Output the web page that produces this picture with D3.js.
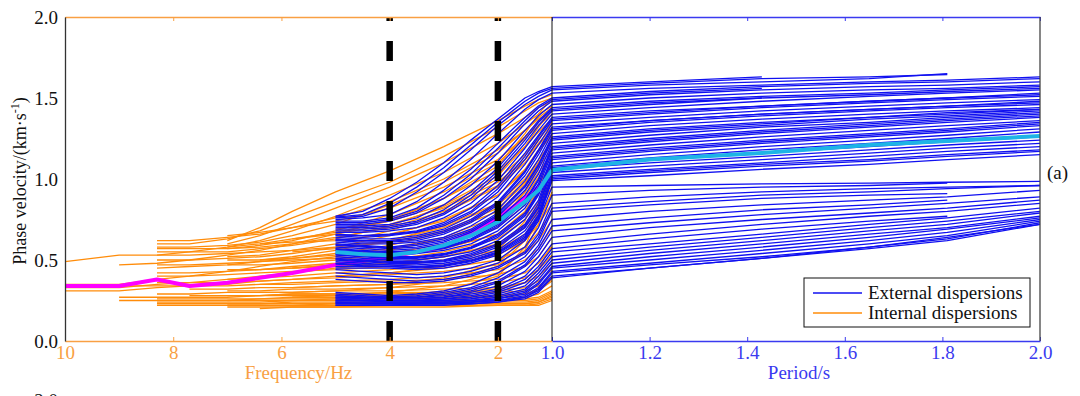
<!DOCTYPE html>
<html>
<head>
<meta charset="utf-8">
<script src="https://cdn.jsdelivr.net/npm/d3@7"></script>
<style>
  html, body { margin: 0; padding: 0; background: #fff; }
  svg { display: block; font-family: "Liberation Serif", "Times New Roman", serif; }
</style>
</head>
<body>
<div id="chart"></div>
<script>
// frequency grids (Hz) and period grid (s)
const freqInt = [10, 9, 8.3, 7.7, 7, 6.4, 5.8, 5, 4, 3, 2, 1.5, 1.25, 1];
const freqExt = [5, 4.5, 4, 3.5, 3, 2.5, 2, 1.5, 1.25, 1];
const periods = [1.0, 1.2, 1.43, 1.65, 1.81, 2.0];

const freqTicks = [10, 8, 6, 4, 2];
const periodTicks = [1.0, 1.2, 1.4, 1.6, 1.8, 2.0];
const velocityTicks = [0, 0.5, 1.0, 1.5, 2.0];
const markedFreqs = [4, 2];

// internal dispersions, phase velocity (km/s) on freqInt, null = not measured
const internalCurves = [
  [null, null, null, null, 0.62, 0.70, 0.80, 0.92, 1.05, 1.20, 1.36, 1.45, 1.49, 1.52],
  [null, null, 0.60, 0.60, 0.63, 0.68, 0.76, 0.86, 0.98, 1.14, 1.32, 1.42, 1.47, 1.50],
  [null, null, null, null, 0.60, 0.65, 0.72, 0.82, 0.95, 1.10, 1.28, 1.38, 1.44, 1.48],
  [0.49, 0.53, 0.53, 0.55, 0.58, 0.62, 0.68, 0.77, 0.90, 1.04, 1.22, 1.34, 1.40, 1.45],
  [null, null, 0.58, 0.58, 0.59, 0.61, 0.65, 0.72, 0.84, 0.98, 1.16, 1.30, 1.37, 1.42],
  [null, null, null, null, 0.57, 0.59, 0.62, 0.68, 0.78, 0.92, 1.10, 1.25, 1.33, 1.40],
  [null, 0.47, 0.48, 0.50, 0.53, 0.56, 0.60, 0.66, 0.75, 0.88, 1.05, 1.20, 1.29, 1.37],
  [null, null, 0.55, 0.55, 0.55, 0.57, 0.59, 0.63, 0.71, 0.83, 1.00, 1.15, 1.25, 1.34],
  [null, null, null, null, 0.52, 0.53, 0.56, 0.60, 0.68, 0.79, 0.95, 1.10, 1.21, 1.30],
  [null, null, 0.50, 0.50, 0.51, 0.52, 0.54, 0.58, 0.65, 0.75, 0.90, 1.05, 1.17, 1.27],
  [null, null, null, null, null, 0.50, 0.52, 0.56, 0.62, 0.71, 0.85, 1.00, 1.12, 1.23],
  [null, null, 0.45, 0.46, 0.47, 0.49, 0.51, 0.54, 0.59, 0.67, 0.80, 0.95, 1.07, 1.19],
  [0.35, 0.35, 0.38, 0.40, 0.43, 0.46, 0.49, 0.52, 0.56, 0.63, 0.74, 0.89, 1.01, 1.14],
  [null, null, null, null, 0.47, 0.47, 0.48, 0.50, 0.54, 0.60, 0.70, 0.84, 0.96, 1.10],
  [null, null, 0.42, 0.42, 0.43, 0.44, 0.46, 0.48, 0.52, 0.57, 0.66, 0.79, 0.91, 1.05],
  [null, null, null, null, null, null, 0.45, 0.47, 0.50, 0.55, 0.63, 0.75, 0.86, 1.00],
  [0.33, 0.33, 0.35, 0.36, 0.38, 0.40, 0.42, 0.45, 0.48, 0.52, 0.59, 0.70, 0.81, 0.95],
  [null, null, 0.40, 0.40, 0.41, 0.42, 0.43, 0.44, 0.46, 0.50, 0.56, 0.66, 0.77, 0.90],
  [null, null, null, null, 0.38, 0.39, 0.40, 0.42, 0.44, 0.47, 0.53, 0.62, 0.72, 0.85],
  [0.31, 0.31, 0.33, 0.34, 0.35, 0.37, 0.38, 0.40, 0.42, 0.45, 0.50, 0.58, 0.67, 0.80],
  [null, null, 0.36, 0.36, 0.36, 0.37, 0.38, 0.39, 0.41, 0.43, 0.47, 0.54, 0.62, 0.75],
  [null, null, null, null, null, 0.35, 0.36, 0.37, 0.38, 0.40, 0.44, 0.50, 0.57, 0.70],
  [null, 0.34, 0.34, 0.34, 0.34, 0.35, 0.35, 0.36, 0.37, 0.38, 0.41, 0.46, 0.52, 0.64],
  [null, null, null, 0.32, 0.32, 0.33, 0.33, 0.34, 0.35, 0.36, 0.38, 0.42, 0.48, 0.58],
  [null, null, null, null, 0.31, 0.31, 0.32, 0.32, 0.33, 0.34, 0.36, 0.39, 0.44, 0.53],
  [null, null, 0.29, 0.29, 0.30, 0.30, 0.30, 0.31, 0.31, 0.32, 0.33, 0.36, 0.40, 0.48],
  [null, null, null, null, 0.28, 0.28, 0.29, 0.29, 0.30, 0.30, 0.31, 0.33, 0.37, 0.44],
  [null, 0.27, 0.27, 0.27, 0.27, 0.28, 0.28, 0.28, 0.28, 0.29, 0.30, 0.31, 0.34, 0.40],
  [null, null, 0.26, 0.26, 0.26, 0.26, 0.27, 0.27, 0.27, 0.28, 0.28, 0.29, 0.31, 0.37],
  [null, null, null, null, 0.25, 0.25, 0.25, 0.26, 0.26, 0.26, 0.27, 0.27, 0.29, 0.34],
  [null, null, 0.24, 0.24, 0.24, 0.24, 0.25, 0.25, 0.25, 0.25, 0.25, 0.26, 0.27, 0.31],
  [null, null, null, null, 0.23, 0.23, 0.23, 0.23, 0.24, 0.24, 0.24, 0.24, 0.25, 0.29],
  [null, null, 0.22, 0.22, 0.22, 0.22, 0.22, 0.23, 0.23, 0.23, 0.23, 0.23, 0.24, 0.27],
  [null, null, null, null, 0.21, 0.21, 0.21, 0.21, 0.22, 0.22, 0.22, 0.22, 0.23, 0.26],
  [null, null, null, null, null, 0.20, 0.21, 0.21, 0.21, 0.21, 0.22, 0.22, 0.22, 0.25],
  [null, null, null, null, null, null, 0.63, 0.66, 0.72, 0.82, 0.98, 1.12, 1.22, 1.32],
  [null, null, null, null, null, null, null, 0.69, 0.74, 0.84, 1.02, 1.20, 1.32, 1.43],
  [null, null, null, null, null, null, 0.27, 0.28, 0.30, 0.34, 0.42, 0.56, 0.72, 0.92],
  [null, null, null, null, null, 0.30, 0.30, 0.31, 0.33, 0.37, 0.46, 0.62, 0.80, 1.02],
  [null, null, null, null, null, null, null, 0.25, 0.27, 0.31, 0.40, 0.58, 0.78, 1.10],
  [null, null, null, null, 0.58, 0.60, 0.63, 0.67, 0.74, 0.88, 1.08, 1.28, 1.40, 1.50],
  [null, null, null, null, null, 0.44, 0.45, 0.47, 0.51, 0.58, 0.72, 0.92, 1.08, 1.26],
  [null, null, 0.62, 0.62, 0.64, 0.66, 0.70, 0.76, 0.86, 1.00, 1.18, 1.30, 1.38, 1.44],
  [null, null, null, null, 0.65, 0.67, 0.70, 0.74, 0.82, 0.95, 1.12, 1.26, 1.35, 1.42],
  [null, null, 0.57, 0.57, 0.57, 0.58, 0.60, 0.64, 0.70, 0.80, 0.96, 1.12, 1.24, 1.35],
  [null, null, null, null, null, 0.60, 0.61, 0.62, 0.66, 0.74, 0.90, 1.06, 1.18, 1.28],
  [null, null, 0.53, 0.53, 0.54, 0.55, 0.56, 0.58, 0.62, 0.70, 0.84, 0.98, 1.10, 1.22],
  [null, null, null, null, 0.50, 0.50, 0.51, 0.53, 0.57, 0.64, 0.77, 0.92, 1.04, 1.16],
  [null, 0.25, 0.25, 0.25, 0.25, 0.26, 0.26, 0.26, 0.27, 0.27, 0.28, 0.29, 0.32, 0.38],
  [null, null, 0.23, 0.23, 0.23, 0.23, 0.24, 0.24, 0.24, 0.24, 0.25, 0.25, 0.26, 0.30],
  [null, null, null, null, 0.22, 0.22, 0.22, 0.22, 0.22, 0.23, 0.23, 0.23, 0.24, 0.28],
  [null, null, null, null, null, null, 0.55, 0.57, 0.61, 0.68, 0.82, 0.97, 1.10, 1.24],
  [null, null, null, null, null, null, 0.33, 0.34, 0.35, 0.39, 0.48, 0.64, 0.84, 1.12],
  [null, null, null, null, null, null, null, 0.40, 0.42, 0.46, 0.56, 0.74, 0.96, 1.20],
  [null, null, 0.47, 0.47, 0.48, 0.49, 0.50, 0.51, 0.53, 0.57, 0.66, 0.80, 0.94, 1.08],
  [null, null, null, null, 0.44, 0.44, 0.45, 0.46, 0.48, 0.52, 0.60, 0.72, 0.84, 0.98],
  [null, null, null, 0.28, 0.28, 0.28, 0.29, 0.29, 0.29, 0.30, 0.32, 0.36, 0.44, 0.60]
];

// external dispersions, frequency part on freqExt
const externalFreqCurves = [
  [0.77, 0.80, 0.88, 0.98, 1.10, 1.24, 1.37, 1.50, 1.54, 1.57],
  [0.76, 0.77, 0.82, 0.92, 1.04, 1.18, 1.33, 1.46, 1.51, 1.55],
  [0.75, 0.76, 0.78, 0.86, 0.98, 1.12, 1.28, 1.43, 1.49, 1.53],
  [0.74, 0.74, 0.76, 0.82, 0.93, 1.06, 1.22, 1.38, 1.45, 1.50],
  [0.72, 0.72, 0.74, 0.79, 0.88, 1.00, 1.16, 1.34, 1.42, 1.48],
  [0.71, 0.71, 0.72, 0.76, 0.84, 0.96, 1.11, 1.30, 1.39, 1.46],
  [0.70, 0.70, 0.71, 0.74, 0.81, 0.92, 1.07, 1.26, 1.36, 1.44],
  [0.68, 0.68, 0.69, 0.72, 0.78, 0.88, 1.03, 1.22, 1.33, 1.42],
  [0.67, 0.67, 0.68, 0.70, 0.76, 0.85, 0.99, 1.19, 1.30, 1.40],
  [0.66, 0.65, 0.66, 0.68, 0.73, 0.82, 0.96, 1.16, 1.27, 1.38],
  [0.65, 0.64, 0.65, 0.67, 0.71, 0.79, 0.92, 1.12, 1.24, 1.36],
  [0.64, 0.63, 0.63, 0.65, 0.69, 0.77, 0.89, 1.09, 1.21, 1.34],
  [0.63, 0.62, 0.62, 0.64, 0.68, 0.75, 0.86, 1.05, 1.18, 1.32],
  [0.62, 0.61, 0.61, 0.62, 0.66, 0.73, 0.84, 1.02, 1.15, 1.30],
  [0.61, 0.60, 0.60, 0.61, 0.64, 0.71, 0.81, 0.99, 1.12, 1.28],
  [0.60, 0.59, 0.58, 0.60, 0.63, 0.69, 0.79, 0.96, 1.09, 1.26],
  [0.59, 0.58, 0.57, 0.58, 0.61, 0.67, 0.77, 0.93, 1.06, 1.24],
  [0.58, 0.57, 0.56, 0.57, 0.60, 0.65, 0.75, 0.90, 1.03, 1.22],
  [0.57, 0.56, 0.55, 0.56, 0.58, 0.63, 0.72, 0.87, 1.00, 1.20],
  [0.56, 0.55, 0.54, 0.55, 0.57, 0.62, 0.70, 0.84, 0.97, 1.18],
  [0.55, 0.54, 0.53, 0.54, 0.56, 0.60, 0.68, 0.82, 0.95, 1.16],
  [0.54, 0.53, 0.52, 0.52, 0.54, 0.58, 0.66, 0.79, 0.92, 1.14],
  [0.53, 0.52, 0.51, 0.51, 0.53, 0.57, 0.64, 0.77, 0.90, 1.12],
  [0.52, 0.51, 0.50, 0.50, 0.52, 0.55, 0.62, 0.75, 0.87, 1.10],
  [0.51, 0.50, 0.49, 0.49, 0.50, 0.54, 0.60, 0.72, 0.85, 1.08],
  [0.50, 0.49, 0.48, 0.48, 0.49, 0.52, 0.58, 0.70, 0.82, 1.06],
  [0.49, 0.48, 0.47, 0.47, 0.48, 0.51, 0.56, 0.68, 0.80, 1.04],
  [0.48, 0.47, 0.47, 0.46, 0.47, 0.50, 0.55, 0.66, 0.78, 1.02],
  [0.46, 0.46, 0.46, 0.45, 0.46, 0.49, 0.54, 0.64, 0.76, 1.00],
  [0.45, 0.45, 0.45, 0.44, 0.45, 0.48, 0.53, 0.63, 0.75, 0.99],
  [0.44, 0.43, 0.42, 0.41, 0.42, 0.45, 0.50, 0.62, 0.74, 0.95],
  [0.42, 0.41, 0.40, 0.39, 0.40, 0.43, 0.48, 0.58, 0.70, 0.90],
  [0.40, 0.39, 0.38, 0.37, 0.38, 0.41, 0.46, 0.55, 0.66, 0.85],
  [0.30, 0.29, 0.28, 0.29, 0.31, 0.35, 0.42, 0.52, 0.62, 0.80],
  [0.29, 0.28, 0.27, 0.28, 0.30, 0.33, 0.39, 0.49, 0.59, 0.75],
  [0.28, 0.27, 0.27, 0.27, 0.28, 0.31, 0.36, 0.46, 0.55, 0.68],
  [0.27, 0.27, 0.26, 0.26, 0.27, 0.30, 0.34, 0.43, 0.52, 0.64],
  [0.27, 0.26, 0.26, 0.26, 0.27, 0.29, 0.32, 0.40, 0.49, 0.60],
  [0.26, 0.26, 0.25, 0.25, 0.26, 0.28, 0.31, 0.38, 0.46, 0.57],
  [0.26, 0.25, 0.25, 0.25, 0.26, 0.27, 0.30, 0.36, 0.44, 0.55],
  [0.25, 0.25, 0.25, 0.25, 0.25, 0.26, 0.29, 0.34, 0.42, 0.52],
  [0.25, 0.25, 0.24, 0.24, 0.25, 0.26, 0.28, 0.32, 0.40, 0.50],
  [0.24, 0.24, 0.24, 0.24, 0.24, 0.25, 0.27, 0.31, 0.38, 0.48],
  [0.24, 0.24, 0.24, 0.24, 0.24, 0.25, 0.26, 0.30, 0.36, 0.46],
  [0.24, 0.23, 0.23, 0.23, 0.24, 0.24, 0.26, 0.29, 0.35, 0.45],
  [0.23, 0.23, 0.23, 0.23, 0.23, 0.24, 0.25, 0.28, 0.33, 0.43],
  [0.23, 0.23, 0.23, 0.23, 0.23, 0.24, 0.25, 0.27, 0.32, 0.42],
  [0.22, 0.22, 0.22, 0.23, 0.23, 0.23, 0.24, 0.27, 0.31, 0.40],
  [0.22, 0.22, 0.22, 0.22, 0.22, 0.23, 0.24, 0.26, 0.30, 0.39],
  [0.765, 0.78, 0.85, 0.95, 1.07, 1.21, 1.35, 1.48, 1.53, 1.56],
  [0.73, 0.73, 0.75, 0.80, 0.90, 1.03, 1.19, 1.36, 1.44, 1.49],
  [0.69, 0.69, 0.70, 0.73, 0.79, 0.90, 1.05, 1.24, 1.35, 1.43],
  [0.655, 0.65, 0.655, 0.675, 0.72, 0.80, 0.94, 1.14, 1.26, 1.37],
  [0.625, 0.62, 0.615, 0.63, 0.67, 0.74, 0.85, 1.04, 1.17, 1.31],
  [0.595, 0.585, 0.575, 0.59, 0.62, 0.68, 0.78, 0.95, 1.08, 1.25],
  [0.565, 0.555, 0.545, 0.555, 0.575, 0.625, 0.71, 0.86, 0.99, 1.19],
  [0.535, 0.525, 0.515, 0.515, 0.535, 0.575, 0.65, 0.78, 0.91, 1.13],
  [0.505, 0.495, 0.485, 0.485, 0.495, 0.53, 0.59, 0.71, 0.83, 1.07],
  [0.475, 0.465, 0.46, 0.455, 0.465, 0.495, 0.545, 0.65, 0.77, 1.01],
  [0.38, 0.37, 0.36, 0.36, 0.37, 0.40, 0.45, 0.54, 0.64, 0.82],
  [0.28, 0.27, 0.27, 0.27, 0.29, 0.32, 0.37, 0.47, 0.57, 0.71]
];

// external dispersions, period part on periods (same order as above)
const externalPeriodCurves = [
  [1.57, 1.60, 1.63, null, null, null],
  [1.55, 1.58, 1.60, 1.62, 1.65, null],
  [1.53, 1.56, 1.58, 1.60, 1.61, 1.63],
  [1.50, 1.54, 1.57, 1.59, 1.60, 1.62],
  [1.48, 1.52, 1.55, 1.57, 1.58, 1.60],
  [1.46, 1.50, 1.53, 1.55, 1.56, 1.58],
  [1.44, 1.48, 1.51, 1.53, 1.55, 1.57],
  [1.42, 1.46, 1.50, null, null, null],
  [1.40, 1.44, 1.48, 1.51, 1.53, 1.55],
  [1.38, 1.42, 1.45, 1.48, 1.50, 1.52],
  [1.36, 1.40, 1.44, 1.47, 1.49, 1.51],
  [1.34, 1.38, 1.42, 1.45, 1.47, 1.49],
  [1.32, 1.36, 1.40, 1.43, 1.45, 1.47],
  [1.30, 1.35, 1.39, 1.42, 1.44, 1.46],
  [1.28, 1.33, 1.37, 1.40, 1.42, 1.44],
  [1.26, 1.31, 1.35, 1.38, 1.41, 1.43],
  [1.24, 1.29, 1.33, 1.37, 1.39, 1.42],
  [1.22, 1.27, 1.32, 1.35, 1.38, 1.41],
  [1.20, 1.25, 1.30, 1.34, 1.37, 1.40],
  [1.18, 1.23, 1.28, 1.32, 1.35, 1.38],
  [1.16, 1.21, 1.26, 1.30, 1.33, 1.36],
  [1.14, 1.19, 1.24, 1.28, 1.31, 1.35],
  [1.12, 1.17, 1.22, 1.26, 1.29, 1.33],
  [1.10, 1.15, 1.20, 1.24, 1.27, 1.31],
  [1.08, 1.13, 1.18, 1.22, 1.25, 1.29],
  [1.06, 1.10, 1.14, 1.18, 1.21, 1.24],
  [1.04, 1.08, 1.12, 1.16, 1.19, 1.22],
  [1.02, 1.06, 1.10, 1.14, 1.17, 1.20],
  [1.00, 1.04, 1.08, 1.11, 1.14, 1.17],
  [0.99, 1.02, 1.06, 1.09, 1.12, 1.15],
  [0.95, 0.96, 0.97, 0.975, 0.98, 0.985],
  [0.90, 0.93, 0.95, 0.96, 0.975, null],
  [0.85, 0.89, 0.92, 0.94, 0.95, 0.96],
  [0.80, 0.84, 0.88, 0.90, 0.91, null],
  [0.75, 0.80, 0.84, 0.87, 0.89, 0.93],
  [0.68, 0.73, 0.78, 0.82, 0.85, 0.89],
  [0.64, 0.70, 0.75, 0.79, 0.82, 0.87],
  [0.60, 0.66, 0.72, 0.77, 0.80, 0.85],
  [0.57, 0.63, 0.69, 0.74, 0.77, null],
  [0.55, 0.60, 0.66, 0.72, 0.76, 0.82],
  [0.52, 0.58, 0.64, 0.70, 0.74, 0.80],
  [0.50, 0.56, 0.62, 0.68, 0.72, 0.79],
  [0.48, 0.54, 0.60, 0.66, 0.70, 0.77],
  [0.46, 0.52, 0.58, 0.64, 0.69, 0.76],
  [0.45, 0.50, 0.56, 0.62, 0.67, 0.75],
  [0.43, 0.48, 0.54, 0.60, 0.65, 0.74],
  [0.42, 0.47, 0.52, 0.58, 0.63, 0.73],
  [0.40, 0.45, 0.51, 0.57, 0.62, 0.72],
  [0.39, 0.45, 0.51, 0.58, 0.64, 0.72],
  [1.56, 1.59, 1.62, 1.63, 1.645, null],
  [1.49, 1.53, 1.56, null, null, null],
  [1.43, 1.47, 1.50, 1.52, 1.54, 1.56],
  [1.37, 1.41, 1.45, 1.48, 1.50, 1.53],
  [1.31, 1.36, 1.40, 1.43, 1.45, 1.48],
  [1.25, 1.30, 1.34, 1.38, 1.40, 1.43],
  [1.19, 1.24, 1.29, 1.33, 1.36, 1.39],
  [1.13, 1.18, 1.23, 1.27, 1.30, 1.34],
  [1.07, 1.12, 1.16, 1.20, 1.23, 1.26],
  [1.01, 1.05, 1.09, 1.12, 1.15, 1.18],
  [0.82, 0.86, 0.90, 0.92, 0.94, 0.96],
  [0.71, 0.76, 0.81, 0.84, 0.87, null]
];

// mean curves
const internalMean = [0.34, 0.34, 0.38, 0.34, 0.36, 0.39, 0.42, 0.47, 0.52, 0.58, 0.76, 0.88, 0.95, 1.02];
const externalMeanFreq = [0.55, 0.535, 0.53, 0.55, 0.59, 0.65, 0.735, 0.86, 0.93, 1.055];
const externalMeanPeriod = [1.055, 1.12, 1.16, 1.21, 1.235, 1.265];

const orange = "#ff8c0a", orangeAxis = "#f9a043";
const blue = "#1010f0", blueAxis = "#3a3af0";
const cyan = "#1eb4e6", magenta = "#ff00ff";
const fontSize = 19;

const width = 1080, height = 396;
const margin = { top: 17, right: 40, bottom: 55, left: 65 };
const splitX = 552;

const svg = d3.select("#chart").append("svg")
  .attr("width", width)
  .attr("height", height);

const xF = d3.scaleLinear().domain([10, 1]).range([margin.left, splitX]);
const xP = d3.scaleLinear().domain([1, 2]).range([splitX, width - margin.right]);
const y = d3.scaleLinear().domain([0, 2]).range([height - margin.bottom, margin.top]);

function seriesLine(xScale, xs) {
  return d3.line()
    .defined(d => d != null)
    .x((d, i) => xScale(xs[i]))
    .y(d => y(d));
}

const lineInt = seriesLine(xF, freqInt);
const lineExtF = seriesLine(xF, freqExt);
const lineExtP = seriesLine(xP, periods);

const plot = svg.append("g")
  .attr("fill", "none")
  .attr("stroke-linejoin", "round");

plot.selectAll(".internal")
  .data(internalCurves)
  .enter().append("path")
  .attr("class", "internal")
  .attr("stroke", orange)
  .attr("stroke-width", 1.3)
  .attr("d", lineInt);

plot.append("path")
  .datum(internalMean)
  .attr("stroke", magenta)
  .attr("stroke-width", 4)
  .attr("d", lineInt);

plot.selectAll(".external-f")
  .data(externalFreqCurves)
  .enter().append("path")
  .attr("class", "external-f")
  .attr("stroke", blue)
  .attr("stroke-width", 1.3)
  .attr("d", lineExtF);

plot.selectAll(".external-p")
  .data(externalPeriodCurves)
  .enter().append("path")
  .attr("class", "external-p")
  .attr("stroke", blue)
  .attr("stroke-width", 1.3)
  .attr("d", lineExtP);

plot.append("path")
  .datum(externalMeanFreq)
  .attr("stroke", cyan)
  .attr("stroke-width", 4)
  .attr("d", lineExtF);

plot.append("path")
  .datum(externalMeanPeriod)
  .attr("stroke", cyan)
  .attr("stroke-width", 4)
  .attr("d", lineExtP);

// dashed markers at 4 and 2 Hz
svg.selectAll(".marker")
  .data(markedFreqs)
  .enter().append("line")
  .attr("x1", d => xF(d)).attr("x2", d => xF(d))
  .attr("y1", y(0)).attr("y2", y(2))
  .attr("stroke", "#000")
  .attr("stroke-width", 6.5)
  .attr("stroke-dasharray", "20,20");

// axes
function styleAxis(g, color) {
  g.select(".domain").attr("stroke", color).attr("stroke-width", 1.3);
  g.selectAll(".tick line").attr("stroke", color);
  g.selectAll(".tick text")
    .attr("fill", color)
    .attr("font-size", fontSize)
    .attr("font-family", "Liberation Serif, Times New Roman, serif");
}

svg.append("g")
  .attr("transform", `translate(0,${y(0)})`)
  .call(d3.axisBottom(xF).tickValues(freqTicks).tickFormat(d3.format("d"))
    .tickSizeInner(-4).tickSizeOuter(0).tickPadding(5))
  .call(g => styleAxis(g, orangeAxis));

svg.append("g")
  .attr("transform", `translate(0,${y(0)})`)
  .call(d3.axisBottom(xP).tickValues(periodTicks).tickFormat(d3.format(".1f"))
    .tickSizeInner(-4).tickSizeOuter(0).tickPadding(5))
  .call(g => styleAxis(g, blueAxis));

svg.append("g")
  .attr("transform", `translate(0,${y(2)})`)
  .call(d3.axisTop(xF).tickValues(freqTicks).tickFormat("")
    .tickSizeInner(-4).tickSizeOuter(0))
  .call(g => styleAxis(g, orangeAxis));

svg.append("g")
  .attr("transform", `translate(0,${y(2)})`)
  .call(d3.axisTop(xP).tickValues(periodTicks).tickFormat("")
    .tickSizeInner(-4).tickSizeOuter(0))
  .call(g => styleAxis(g, blueAxis));

svg.append("g")
  .attr("transform", `translate(${margin.left},0)`)
  .call(d3.axisLeft(y).tickValues(velocityTicks).tickFormat(d3.format(".1f"))
    .tickSizeInner(0).tickSizeOuter(0).tickPadding(7))
  .call(g => styleAxis(g, "#333"))
  .call(g => g.selectAll(".tick text").attr("fill", "#111"));

// divider and right frame
svg.append("line")
  .attr("x1", splitX).attr("x2", splitX)
  .attr("y1", y(0)).attr("y2", y(2))
  .attr("stroke", "#111").attr("stroke-width", 1);

svg.append("line")
  .attr("x1", xP(2)).attr("x2", xP(2))
  .attr("y1", y(0)).attr("y2", y(2))
  .attr("stroke", "#444").attr("stroke-width", 1.3);

// axis titles
svg.append("text")
  .attr("x", (xF(10) + xF(1)) / 2 - 10)
  .attr("y", 379)
  .attr("text-anchor", "middle")
  .attr("font-size", fontSize)
  .attr("fill", orangeAxis)
  .text("Frequency/Hz");

svg.append("text")
  .attr("x", (xP(1) + xP(2)) / 2 + 3)
  .attr("y", 379)
  .attr("text-anchor", "middle")
  .attr("font-size", fontSize)
  .attr("fill", blueAxis)
  .text("Period/s");

const yTitle = svg.append("text")
  .attr("transform", `translate(26,${(y(0) + y(2)) / 2 + 2}) rotate(-90)`)
  .attr("text-anchor", "middle")
  .attr("font-size", 18)
  .attr("fill", "#111");
yTitle.append("tspan").text("Phase velocity/(km·s");
yTitle.append("tspan").attr("font-size", 12).attr("dy", -7).text("-1");
yTitle.append("tspan").attr("dy", 7).text(")");

svg.append("text")
  .attr("x", 1047).attr("y", 179)
  .attr("font-size", fontSize)
  .attr("fill", "#111")
  .text("(a)");

// next panel's tick label peeking in at the bottom
svg.append("text")
  .attr("x", 58).attr("y", 407)
  .attr("text-anchor", "end")
  .attr("font-size", fontSize)
  .attr("fill", "#111")
  .text("2.0");

// legend
const legend = svg.append("g").attr("transform", "translate(804,278)");
legend.append("rect")
  .attr("width", 226).attr("height", 49)
  .attr("fill", "#fff").attr("stroke", "#111").attr("stroke-width", 1);
const legendItems = [
  { label: "External dispersions", color: blue },
  { label: "Internal dispersions", color: orange }
];
legendItems.forEach((d, i) => {
  legend.append("line")
    .attr("x1", 9).attr("x2", 58)
    .attr("y1", 15 + i * 20).attr("y2", 15 + i * 20)
    .attr("stroke", d.color).attr("stroke-width", 1.3);
  legend.append("text")
    .attr("x", 64).attr("y", 21 + i * 20)
    .attr("font-size", fontSize)
    .attr("fill", "#111")
    .text(d.label);
});
</script>
</body>
</html>
